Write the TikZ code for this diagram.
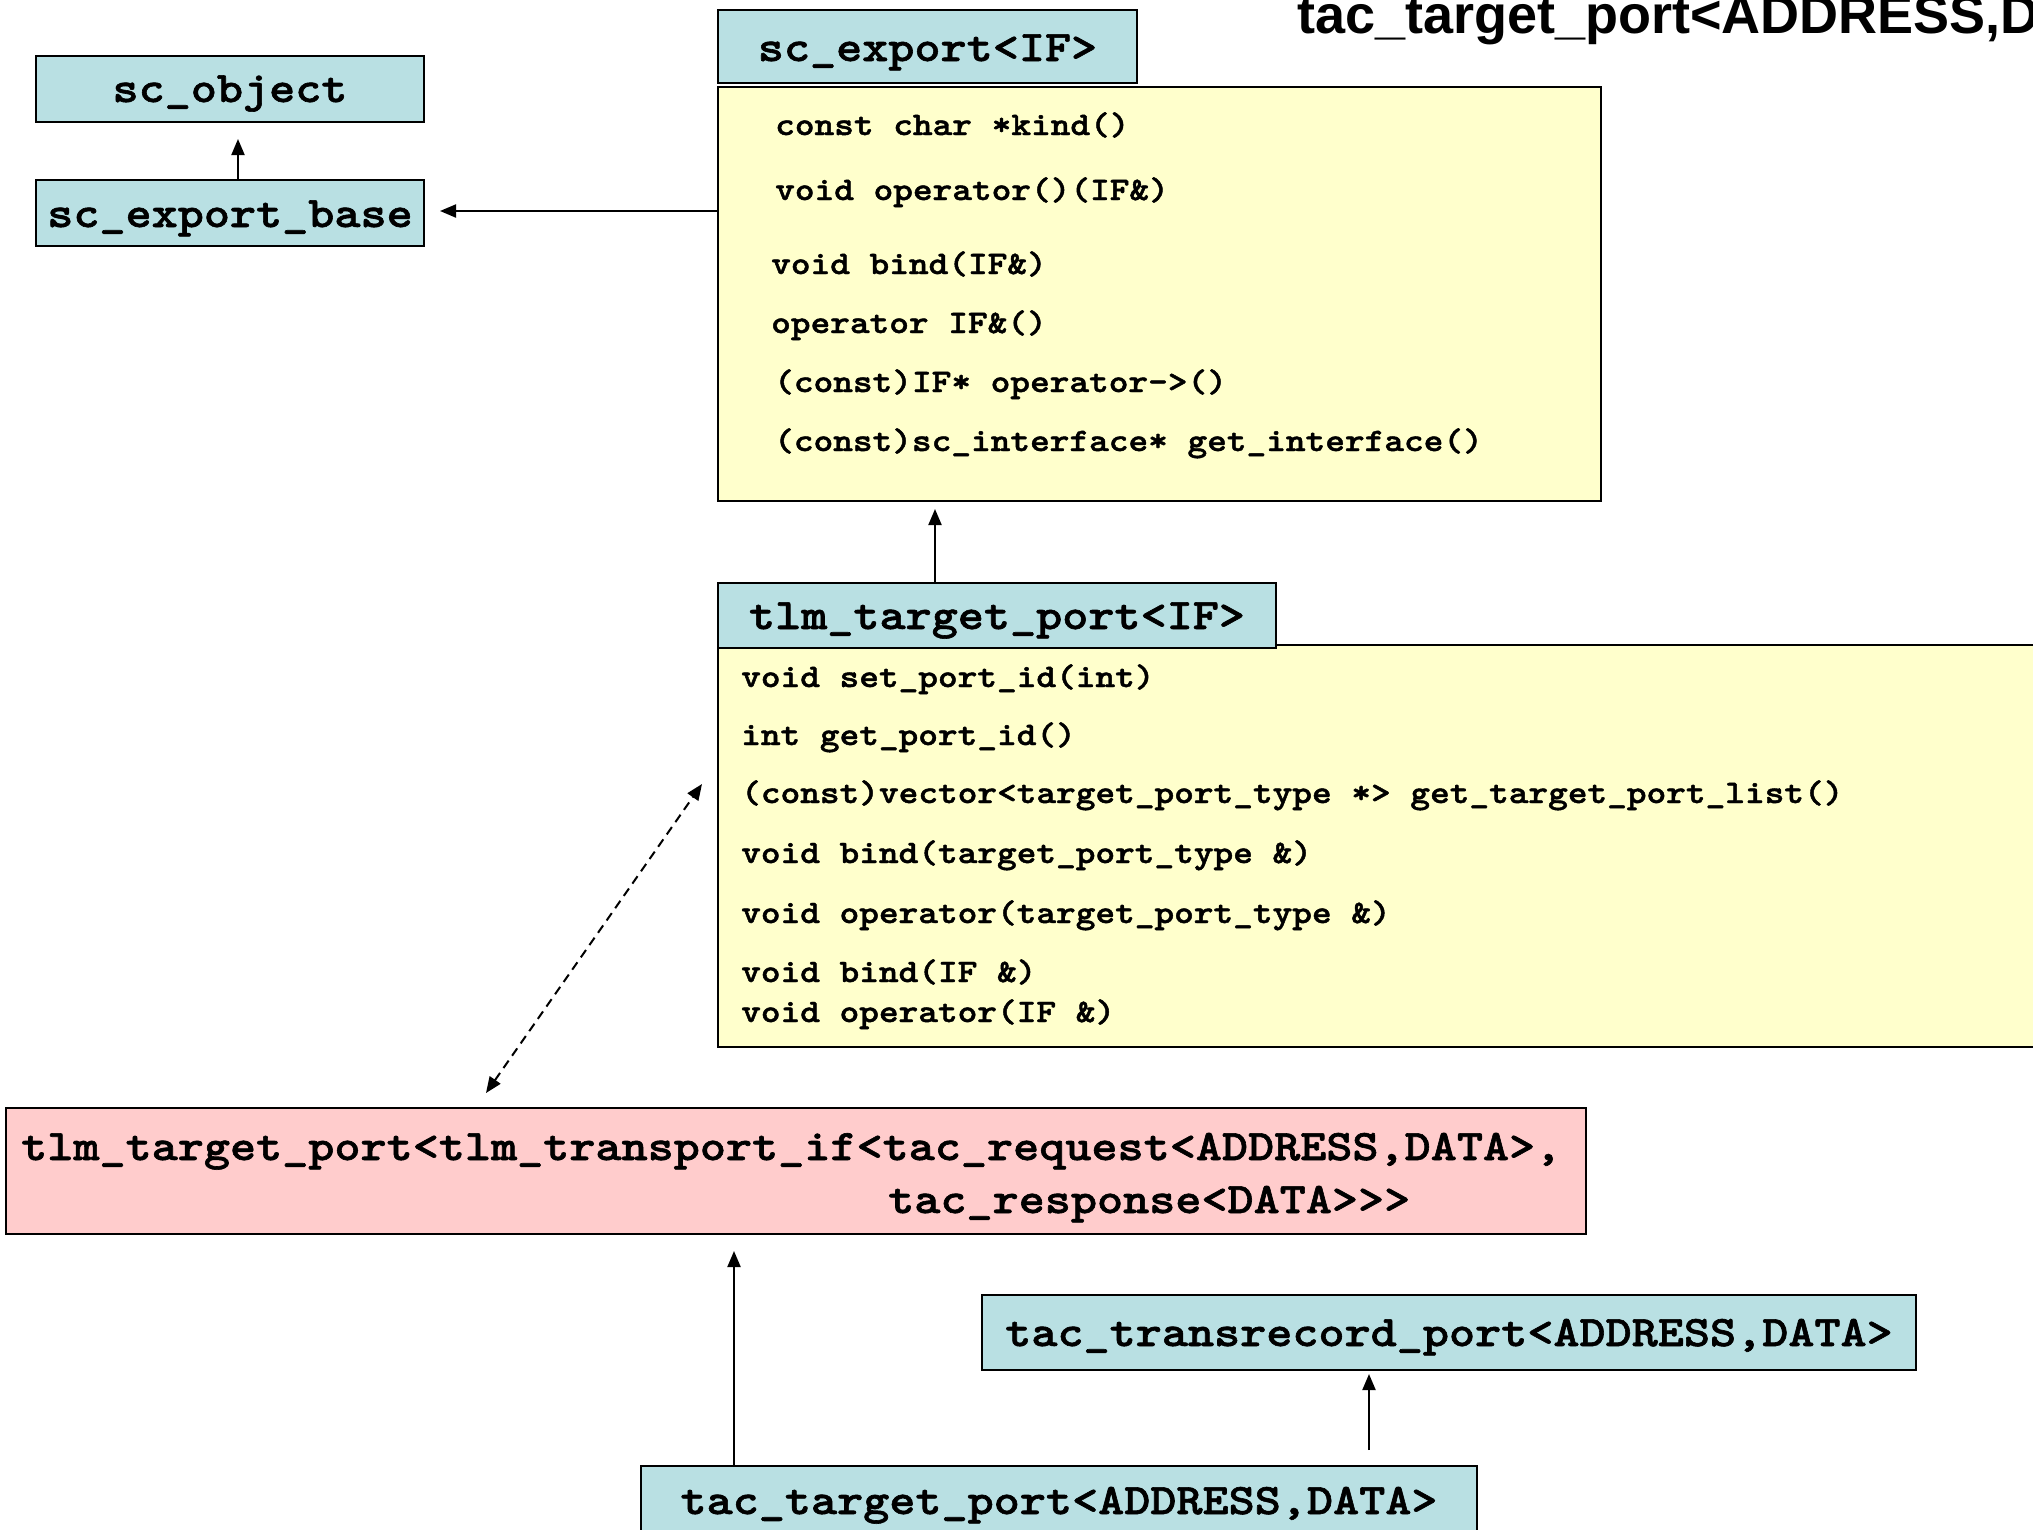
\documentclass[tikz,border=0pt]{standalone}
\usepackage{fontspec}
\newfontfamily\cour{lmmonolt10-bold.otf}[FakeStretch=1.143,FakeBold=1.4]
\newfontfamily\arialf{Liberation Sans}
\usetikzlibrary{arrows.meta,calc}
\definecolor{boxblue}{RGB}{185,224,227}
\definecolor{boxyellow}{RGB}{255,255,204}
\definecolor{boxpink}{RGB}{255,204,204}
\tikzset{
  box/.style={draw=black, line width=2pt, inner sep=0pt, anchor=center},
  bluebox/.style={box, fill=boxblue},
  yellowbox/.style={box, fill=boxyellow},
  pinkbox/.style={box, fill=boxpink},
  bigtxt/.style={inner sep=0pt, anchor=base, font=\cour\fontsize{43.5}{50}\selectfont},
  bigleft/.style={bigtxt, anchor=base west},
  smalltxt/.style={inner sep=0pt, anchor=base west, font=\cour\fontsize{32.8}{38}\selectfont},
  arr/.style={line width=2pt, -{Triangle[length=16pt,width=13pt]}},
  dasharr/.style={line width=2pt, dash pattern=on 9pt off 6pt, {Triangle[length=16pt,width=13pt]}-{Triangle[length=16pt,width=13pt]}},
}
\begin{document}
\begin{tikzpicture}[x=1pt,y=-1pt]
\useasboundingbox (0,0) rectangle (2033,1529);
\clip (0,0) rectangle (2033,1529);
\fill[white] (0,0) rectangle (2033,1529);

% title
\node[inner sep=0pt, anchor=base west, font=\arialf\bfseries\fontsize{54}{60}\selectfont] (title) at (1297,33) {tac\_target\_port<ADDRESS,DATA>};

% left boxes
\node[bluebox, minimum width=388pt, minimum height=66pt] (sco) at (230,89) {};
\node[bigtxt] (scoT) at (230,102) {sc\_object};
\node[bluebox, minimum width=388pt, minimum height=66pt] (seb) at (230,213) {};
\node[bigtxt] (sebT) at (230,227) {sc\_export\_base};

% sc_export
\node[bluebox, minimum width=419pt, minimum height=73pt] (sce) at (927.5,46.5) {};
\node[bigtxt] (sceT) at (927.5,61) {sc\_export<IF>};
\node[yellowbox, minimum width=883pt, minimum height=414pt] (sceb) at (1159.5,294) {};
\node[smalltxt] (e1) at (775,135) {const char *kind()};
\node[smalltxt] (e2) at (775,200) {void operator()(IF\&)};
\node[smalltxt] (e3) at (771,274) {void bind(IF\&)};
\node[smalltxt] (e4) at (771,333) {operator IF\&()};
\node[smalltxt] (e5) at (774,392) {(const)IF* operator->()};
\node[smalltxt] (e6) at (774,451) {(const)sc\_interface* get\_interface()};

% tlm_target_port<IF>
\node[yellowbox, minimum width=1382pt, minimum height=402pt] (tlb) at (1409,846) {};
\node[bluebox, minimum width=558pt, minimum height=65pt] (tlh) at (997,615.5) {};
\node[bigtxt] (tlhT) at (997,629) {tlm\_target\_port<IF>};
\node[smalltxt] (t1) at (741,687) {void set\_port\_id(int)};
\node[smalltxt] (t2) at (741,745) {int get\_port\_id()};
\node[smalltxt] (t3) at (741,803) {(const)vector<target\_port\_type *> get\_target\_port\_list()};
\node[smalltxt] (t4) at (741,863) {void bind(target\_port\_type \&)};
\node[smalltxt] (t5) at (741,923) {void operator(target\_port\_type \&)};
\node[smalltxt] (t6) at (741,982) {void bind(IF \&)};
\node[smalltxt] (t7) at (741,1022) {void operator(IF \&)};

% pink box
\node[pinkbox, minimum width=1580pt, minimum height=126pt] (pink) at (796,1171) {};
\node[bigleft] (p1) at (21,1160) {tlm\_target\_port<tlm\_transport\_if<tac\_request<ADDRESS,DATA>,};
\node[bigleft] (p2) at (888,1213) {tac\_response<DATA>>>};

% bottom boxes
\node[bluebox, minimum width=934pt, minimum height=75pt] (ttr) at (1449,1332.5) {};
\node[bigtxt] (ttrT) at (1449,1346) {tac\_transrecord\_port<ADDRESS,DATA>};
\node[bluebox, minimum width=836pt, minimum height=94pt] (ttp) at (1059,1513) {};
\node[bigtxt] (ttpT) at (1059,1514) {tac\_target\_port<ADDRESS,DATA>};

% connectors
\draw[arr, shorten >=16pt] ([xshift=8pt]seb.north) -- ([xshift=8pt]sco.south);
\coordinate (sebE) at (seb.east |- 0,211);
\coordinate (scebW) at (sceb.west |- 0,211);
\draw[arr, shorten >=15pt] (scebW) -- (sebE);
\draw[arr, shorten >=7pt] (tlh.north -| 935,0) -- (sceb.south -| 935,0);
\coordinate (dA) at (702,784);
\coordinate (dB) at (486,1093);
\draw[dasharr] (dB) -- (dA);
\draw[arr, shorten >=16pt] (ttp.north -| 734,0) -- (pink.south -| 734,0);
\draw[arr, shorten <=15pt, shorten >=3pt] (ttp.north -| 1369,0) -- (ttr.south -| 1369,0);
\end{tikzpicture}
\end{document}
